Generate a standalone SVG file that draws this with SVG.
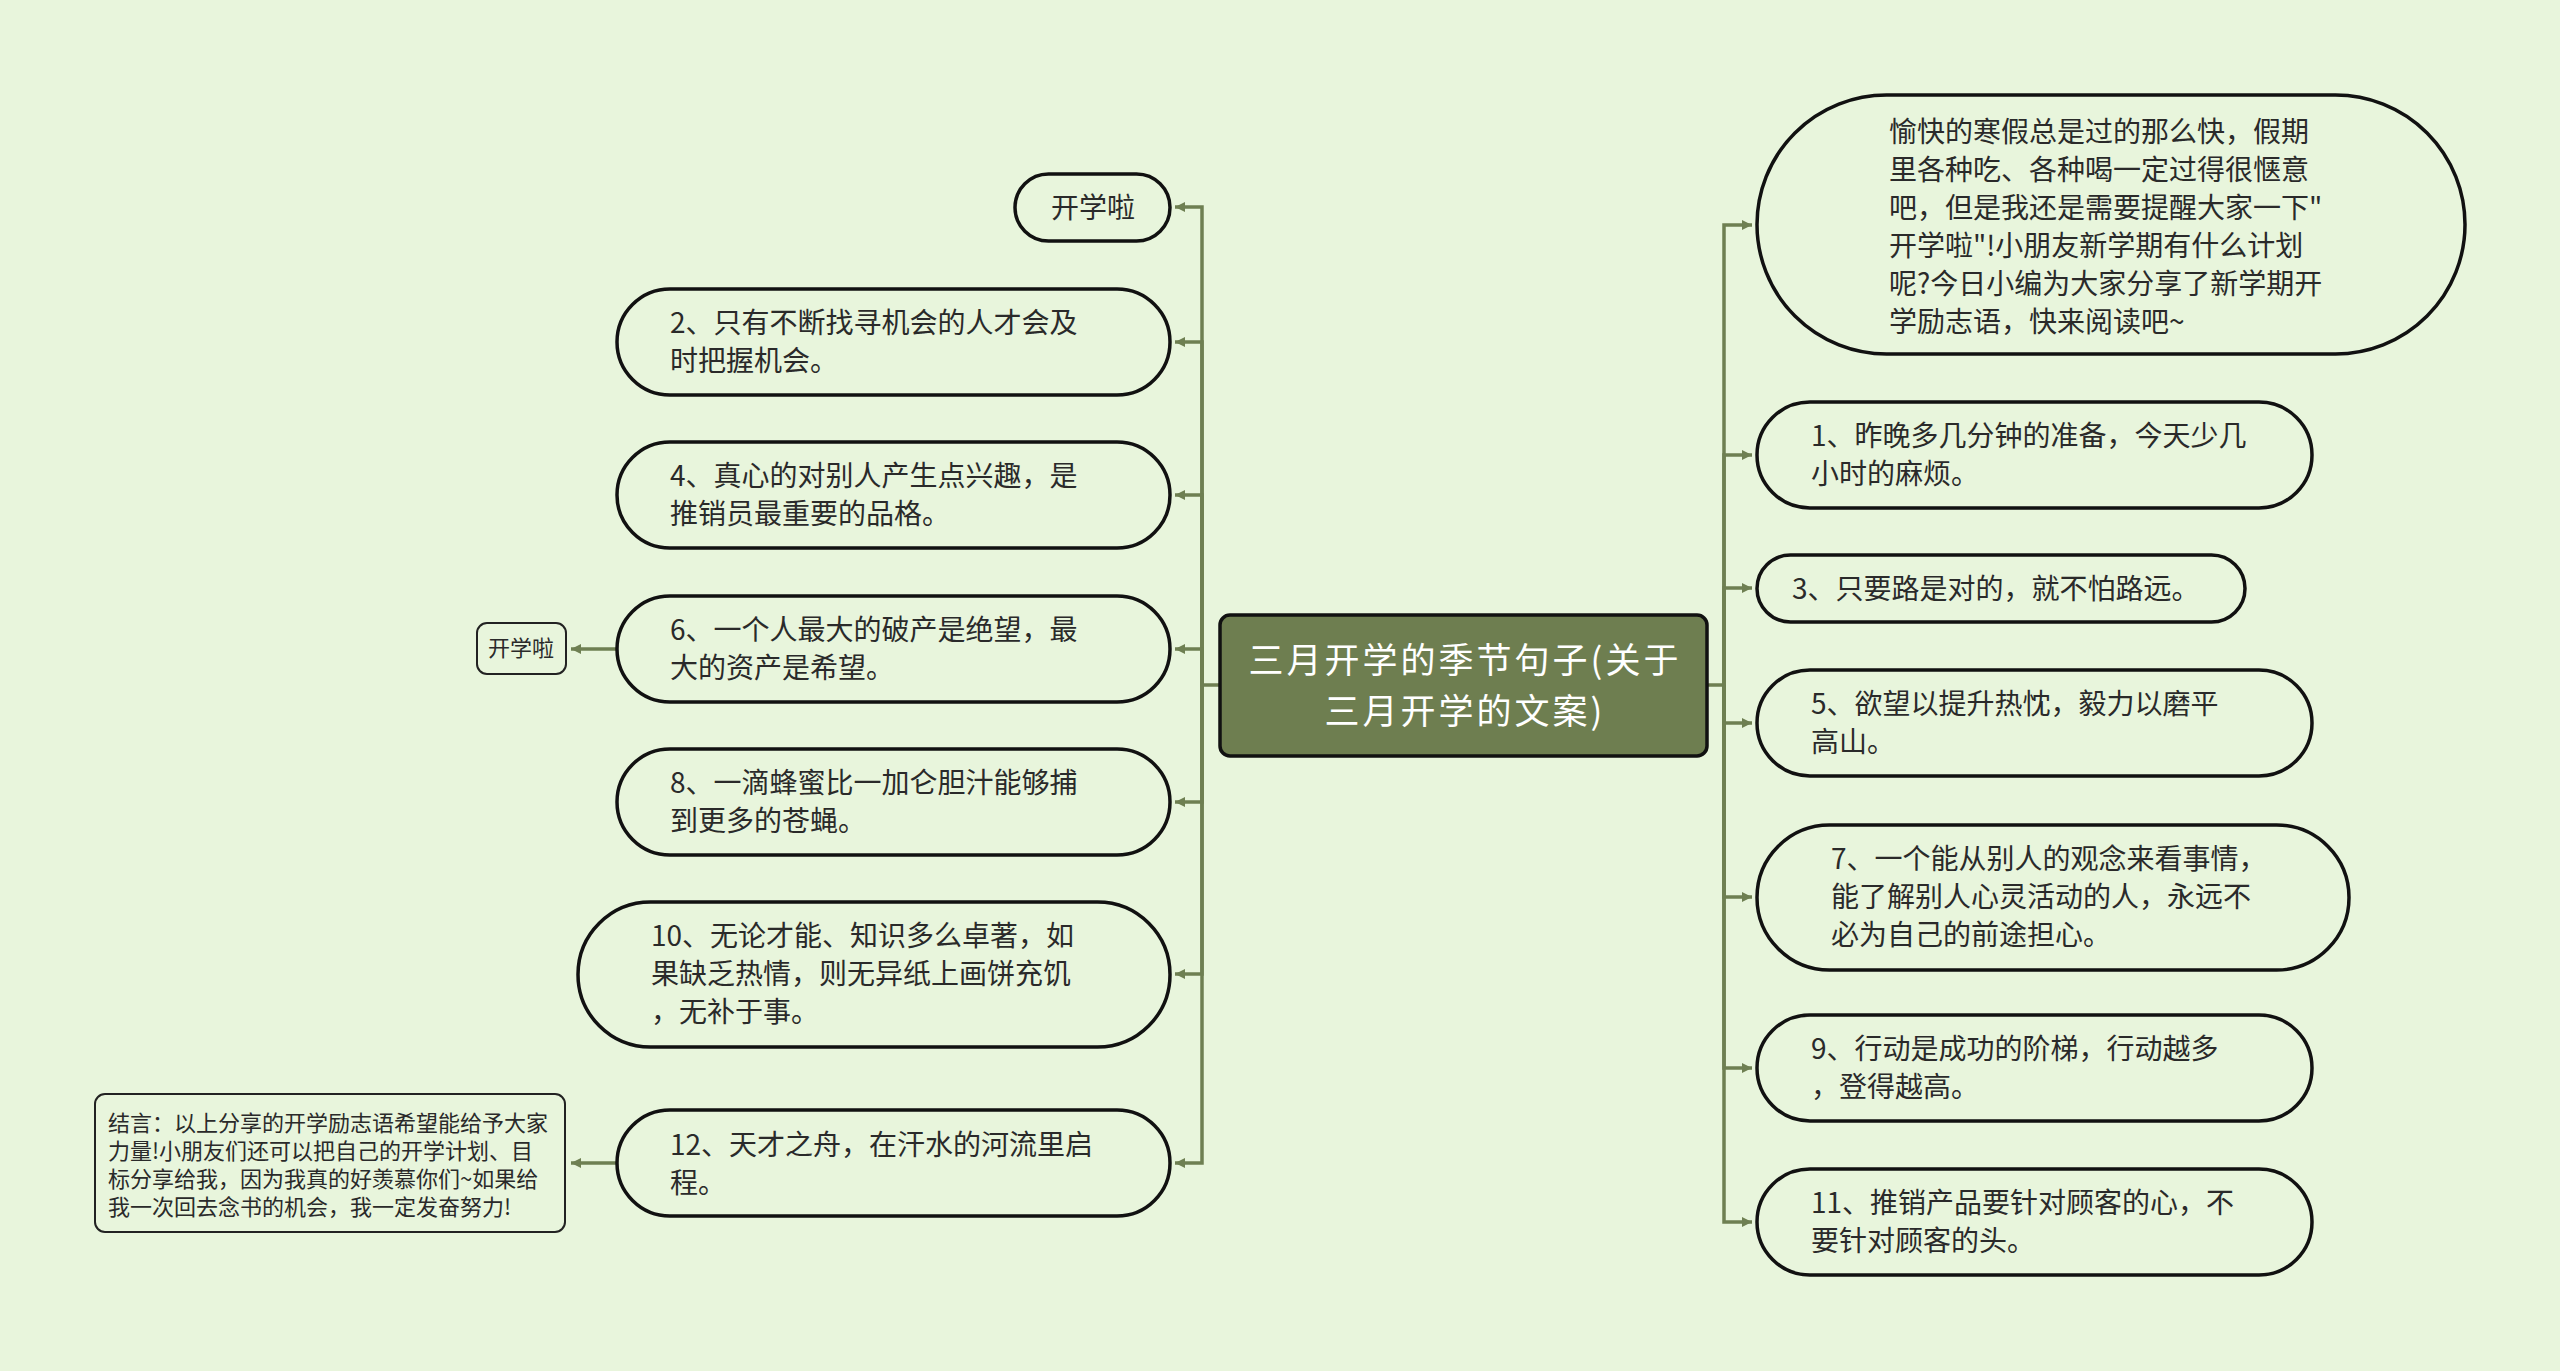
<svg xmlns="http://www.w3.org/2000/svg" width="2560" height="1371" viewBox="0 0 2560 1371">
<defs>
<style>
.bg{fill:#e8f5dc}
.pill{fill:#e8f5dc;stroke:#111;stroke-width:3.5}
.box{fill:#e8f5dc;stroke:#222;stroke-width:2}
.root{fill:#6e7e50;stroke:#111;stroke-width:3.5}
.t{font-family:"Noto Sans CJK SC","Noto Sans",sans-serif;font-size:28px;fill:#2a2a2a}
.ts{font-family:"Noto Sans CJK SC","Noto Sans",sans-serif;font-size:22px;fill:#2a2a2a}
.tr{font-family:"Noto Sans CJK SC","Noto Sans",sans-serif;font-size:35px;letter-spacing:3px;fill:#ffffff;text-anchor:middle}
.c{fill:none;stroke:#6e7f52;stroke-width:3.5}
</style>
<marker id="ah" markerWidth="10" markerHeight="10" refX="10" refY="5" orient="auto" markerUnits="userSpaceOnUse">
<path d="M0,0 L10,5 L0,10 z" fill="#6e7f52"/>
</marker>
</defs>
<rect class="bg" x="0" y="0" width="2560" height="1371"/>

<g id="connectors">
<path class="c" d="M1220,685 H1202 V207 H1175" marker-end="url(#ah)"/>
<path class="c" d="M1202,685 V342 H1175" marker-end="url(#ah)"/>
<path class="c" d="M1202,685 V495 H1175" marker-end="url(#ah)"/>
<path class="c" d="M1202,685 V649 H1175" marker-end="url(#ah)"/>
<path class="c" d="M1202,685 V802 H1175" marker-end="url(#ah)"/>
<path class="c" d="M1202,685 V974 H1175" marker-end="url(#ah)"/>
<path class="c" d="M1202,685 V1163 H1175" marker-end="url(#ah)"/>
<path class="c" d="M1707,685 H1724 V225 H1752" marker-end="url(#ah)"/>
<path class="c" d="M1724,685 V455 H1752" marker-end="url(#ah)"/>
<path class="c" d="M1724,685 V588 H1752" marker-end="url(#ah)"/>
<path class="c" d="M1724,685 V723 H1752" marker-end="url(#ah)"/>
<path class="c" d="M1724,685 V897 H1752" marker-end="url(#ah)"/>
<path class="c" d="M1724,685 V1068 H1752" marker-end="url(#ah)"/>
<path class="c" d="M1724,685 V1222 H1752" marker-end="url(#ah)"/>
<path class="c" d="M617,649 H571" marker-end="url(#ah)"/>
<path class="c" d="M617,1163 H571" marker-end="url(#ah)"/>
</g>

<g id="root">
<rect class="root" x="1220" y="615" width="487" height="141" rx="10"/>
<text class="tr" x="1465" y="673">三月开学的季节句子(关于</text>
<text class="tr" x="1465" y="724">三月开学的文案)</text>
</g>

<g id="L1">
<rect class="pill" x="1015" y="174" width="155" height="67" rx="33.5"/>
<text class="t" x="1093" y="218" text-anchor="middle">开学啦</text>
</g>
<g id="L2">
<rect class="pill" x="617" y="289" width="553" height="106" rx="53"/>
<text class="t" x="670" y="333">2、只有不断找寻机会的人才会及</text>
<text class="t" x="670" y="371">时把握机会。</text>
</g>
<g id="L3">
<rect class="pill" x="617" y="442" width="553" height="106" rx="53"/>
<text class="t" x="670" y="486">4、真心的对别人产生点兴趣，是</text>
<text class="t" x="670" y="524">推销员最重要的品格。</text>
</g>
<g id="L4">
<rect class="pill" x="617" y="596" width="553" height="106" rx="53"/>
<text class="t" x="670" y="640">6、一个人最大的破产是绝望，最</text>
<text class="t" x="670" y="678">大的资产是希望。</text>
</g>
<g id="L5">
<rect class="pill" x="617" y="749" width="553" height="106" rx="53"/>
<text class="t" x="670" y="793">8、一滴蜂蜜比一加仑胆汁能够捕</text>
<text class="t" x="670" y="831">到更多的苍蝇。</text>
</g>
<g id="L6">
<rect class="pill" x="578" y="902" width="592" height="145" rx="72.5"/>
<text class="t" x="651" y="946">10、无论才能、知识多么卓著，如</text>
<text class="t" x="651" y="984">果缺乏热情，则无异纸上画饼充饥</text>
<text class="t" x="651" y="1022">，无补于事。</text>
</g>
<g id="L7">
<rect class="pill" x="617" y="1110" width="553" height="106" rx="53"/>
<text class="t" x="670" y="1155">12、天才之舟，在汗水的河流里启</text>
<text class="t" x="670" y="1193">程。</text>
</g>

<g id="L4a">
<rect class="box" x="477" y="623" width="89" height="51" rx="10"/>
<text class="ts" x="521" y="656" text-anchor="middle">开学啦</text>
</g>
<g id="L7a">
<rect class="box" x="95" y="1094" width="470" height="138" rx="10"/>
<text class="ts" x="108" y="1131">结言：以上分享的开学励志语希望能给予大家</text>
<text class="ts" x="108" y="1159">力量!小朋友们还可以把自己的开学计划、目</text>
<text class="ts" x="108" y="1187">标分享给我，因为我真的好羡慕你们~如果给</text>
<text class="ts" x="108" y="1215">我一次回去念书的机会，我一定发奋努力!</text>
</g>

<g id="R0">
<rect class="pill" x="1757" y="95" width="708" height="259" rx="129.5"/>
<text class="t" x="1889" y="142">愉快的寒假总是过的那么快，假期</text>
<text class="t" x="1889" y="180">里各种吃、各种喝一定过得很惬意</text>
<text class="t" x="1889" y="218">吧，但是我还是需要提醒大家一下"</text>
<text class="t" x="1889" y="256">开学啦"!小朋友新学期有什么计划</text>
<text class="t" x="1889" y="294">呢?今日小编为大家分享了新学期开</text>
<text class="t" x="1889" y="332">学励志语，快来阅读吧~</text>
</g>
<g id="R1">
<rect class="pill" x="1757" y="402" width="555" height="106" rx="53"/>
<text class="t" x="1811" y="446">1、昨晚多几分钟的准备，今天少几</text>
<text class="t" x="1811" y="484">小时的麻烦。</text>
</g>
<g id="R2">
<rect class="pill" x="1757" y="555" width="488" height="67" rx="33.5"/>
<text class="t" x="1792" y="599">3、只要路是对的，就不怕路远。</text>
</g>
<g id="R3">
<rect class="pill" x="1757" y="670" width="555" height="106" rx="53"/>
<text class="t" x="1811" y="714">5、欲望以提升热忱，毅力以磨平</text>
<text class="t" x="1811" y="752">高山。</text>
</g>
<g id="R4">
<rect class="pill" x="1757" y="825" width="592" height="145" rx="72.5"/>
<text class="t" x="1831" y="869">7、一个能从别人的观念来看事情，</text>
<text class="t" x="1831" y="907">能了解别人心灵活动的人，永远不</text>
<text class="t" x="1831" y="945">必为自己的前途担心。</text>
</g>
<g id="R5">
<rect class="pill" x="1757" y="1015" width="555" height="106" rx="53"/>
<text class="t" x="1811" y="1059">9、行动是成功的阶梯，行动越多</text>
<text class="t" x="1811" y="1097">，登得越高。</text>
</g>
<g id="R6">
<rect class="pill" x="1757" y="1169" width="555" height="106" rx="53"/>
<text class="t" x="1811" y="1213">11、推销产品要针对顾客的心，不</text>
<text class="t" x="1811" y="1251">要针对顾客的头。</text>
</g>
</svg>
